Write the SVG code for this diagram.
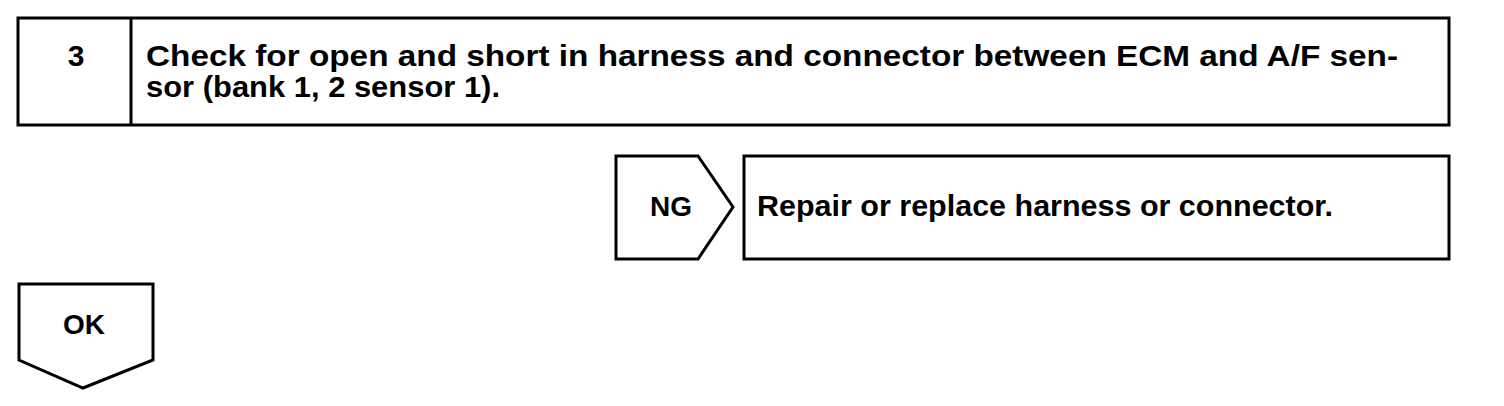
<svg xmlns="http://www.w3.org/2000/svg" width="1504" height="406" viewBox="0 0 1504 406">
<style>
.b{fill:#fff;stroke:#000;stroke-width:3}
.t{font-family:"Liberation Sans",Arial,sans-serif;font-weight:bold;font-size:28px;fill:#000}
.l{font-size:30px}
</style>
<rect width="1504" height="406" fill="#fff"/>
<g id="step3">
<rect class="b" x="18" y="18" width="1431" height="107"/>
<line x1="131" y1="18" x2="131" y2="125" stroke="#000" stroke-width="3"/>
<text class="t l" x="76" y="66" text-anchor="middle">3</text>
<text class="t l" x="146" y="66" textLength="1252" lengthAdjust="spacingAndGlyphs">Check for open and short in harness and connector between ECM and A/F sen-</text>
<text class="t l" x="146" y="97" textLength="354" lengthAdjust="spacingAndGlyphs">sor (bank 1, 2 sensor 1).</text>
</g>
<g id="ng">
<polygon class="b" points="616,156 698,156 733,207 698,259 616,259"/>
<text class="t" x="671" y="216" text-anchor="middle">NG</text>
</g>
<g id="repair">
<rect class="b" x="744" y="156" width="705" height="103"/>
<text class="t l" x="757" y="216" textLength="576" lengthAdjust="spacingAndGlyphs">Repair or replace harness or connector.</text>
</g>
<g id="ok">
<polygon class="b" points="19,284 153,284 153,360 83,388 19,360"/>
<text class="t" x="84" y="334" text-anchor="middle">OK</text>
</g>
<g id="connectors"></g>
</svg>
